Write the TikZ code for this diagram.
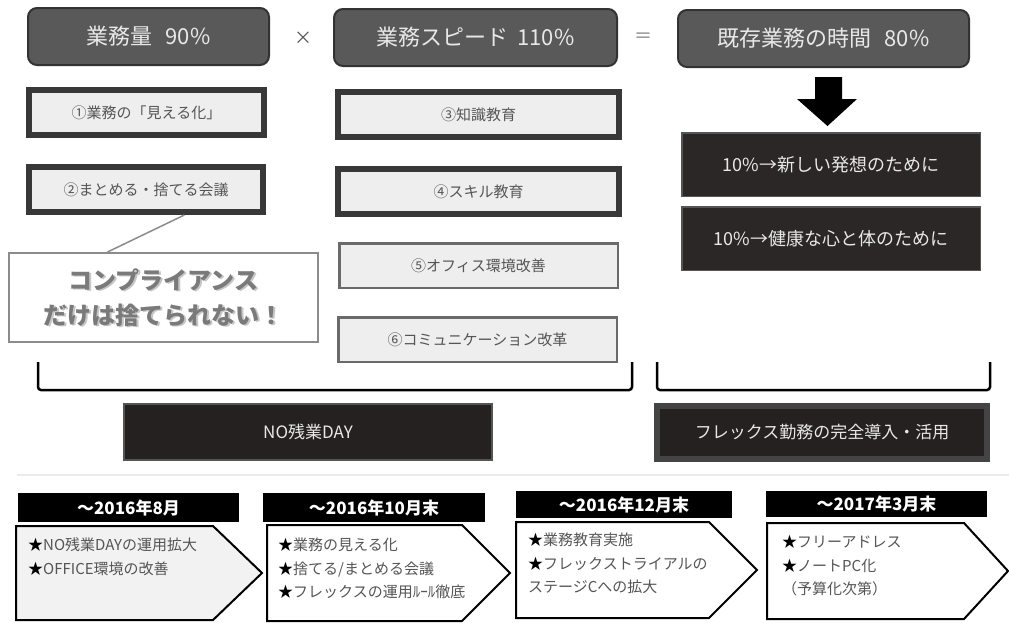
\documentclass[tikz,border=0pt]{standalone}
\usepackage{fontspec}
\setmainfont{Noto Sans CJK JP}
\usetikzlibrary{calc}
\definecolor{topfill}{HTML}{595959}
\definecolor{topdraw}{HTML}{333333}
\definecolor{toptext}{HTML}{E8E8E8}
\definecolor{lightfill}{HTML}{EEEEEE}
\definecolor{thickdraw}{HTML}{383838}
\definecolor{thindraw}{HTML}{6A6A6A}
\definecolor{midtext}{HTML}{555555}
\definecolor{darkfill}{HTML}{2B2727}
\definecolor{darkdraw}{HTML}{555555}
\definecolor{callgray}{HTML}{7A7A7A}
\definecolor{calldraw}{HTML}{8C8C8C}
\definecolor{sepgray}{HTML}{EBEBEB}
\definecolor{p1fill}{HTML}{F2F2F2}
\newcommand\st{{\color{black}★}}
\begin{document}
\begin{tikzpicture}[x=1pt,y=-1pt,
  topbox/.style={draw=topdraw, line width=2, fill=topfill, rounded corners=9,
    text=toptext, font=\fontsize{22}{26}\selectfont, minimum width=#1, minimum height=57, inner sep=0},
  thickbox/.style={draw=thickdraw, line width=6, fill=lightfill, text=midtext,
    font=\fontsize{15}{17}\selectfont, minimum width=#1, minimum height=45, inner sep=0},
  thinbox/.style={draw=thindraw, line width=2.5, fill=lightfill, text=midtext,
    font=\fontsize{15}{17}\selectfont, minimum width=#1, minimum height=44.5, inner sep=0},
  darkbox/.style={draw=darkdraw, line width=1.5, fill=darkfill, text=toptext,
    font=\fontsize{18}{21}\selectfont, minimum width=#1, minimum height=63.5, inner sep=0},
  tlhead/.style={fill=black, text=white, font=\bfseries\fontsize{17}{20}\selectfont,
    minimum width=#1, inner sep=0},
  tltext/.style={anchor=north west, align=left, inner sep=0, text=midtext,
    font=\fontsize{15}{23.5}\selectfont},
  penta/.style={draw=black, line width=2, line join=miter},
  bracket/.style={draw=black, line width=2.5, rounded corners=3},
  opsym/.style={text=midtext, font=\fontsize{18}{20}\selectfont, inner sep=0}
]
\useasboundingbox[fill=white] (0,0) rectangle (1009,622);

% top row
\node[topbox=241] (A) at (148.5,36.5) {業務量\hspace{0.6em}90\%};
\node[opsym] (times) at (303,38) {×};
\node[topbox=283] (B) at (475.5,37.5) {業務スピード\hspace{0.4em}110\%};
\node[opsym, text=gray] (eq) at (643,38) {＝};
\node[topbox=291] (C) at (823.5,38.5) {既存業務の時間\hspace{0.6em}80\%};

% measures
\node[thickbox=235] (n1) at (146.5,112.5) {①業務の「見える化」};
\node[thickbox=234] (n2) at (146,189.5) {②まとめる・捨てる会議};
\node[thickbox=281] (n3) at (478.5,114.5) {③知識教育};
\node[thickbox=281] (n4) at (478.5,191.5) {④スキル教育};
\node[thinbox=278.5] (n5) at (478.5,265.5) {⑤オフィス環境改善};
\node[thinbox=278.5] (n6) at (477.5,339.5) {⑥コミュニケーション改革};

% block arrow
\fill[black] (815,77) -- (842,77) -- (842,99) -- (857,99) -- (827.5,126) -- (797,99) -- (815,99) -- cycle;

\node[darkbox=298.5] (d1) at (831,164.5) {10\%→新しい発想のために};
\node[darkbox=298.5] (d2) at (831,238.5) {10\%→健康な心と体のために};

% callout
\node[draw=calldraw, line width=2, fill=white, minimum width=309, minimum height=89, inner sep=0] (callout) at (163.5,297.5) {};
\node[text=gray!45, font=\bfseries\fontsize{24}{35}\selectfont, align=center, inner sep=0] (callshadow) at (165.2,299.2) {コンプライアンス\\だけは捨てられない！};
\node[text=callgray, font=\bfseries\fontsize{24}{35}\selectfont, align=center, inner sep=0] (calltext) at (163.5,297.5) {コンプライアンス\\だけは捨てられない！};
\draw[calldraw, line width=1.5] ($(n2.south west)!0.66!(n2.south east)$) -- ($(callout.north west)!0.32!(callout.north east)$);

% brackets
\draw[bracket] (38,362) -- (38,390) -- (632,390) -- (632,362);
\draw[bracket] (657,362) -- (657,390) -- (990,390) -- (990,362);

\node[draw=darkdraw, line width=2, fill=darkfill!85!black, text=toptext, font=\fontsize{17}{20}\selectfont,
  minimum width=368, minimum height=56, inner sep=0] (noday) at (308,432) {NO残業DAY};
\node[draw=darkdraw!80!black, line width=6, fill=darkfill!85!black, text=toptext, font=\fontsize{17}{20}\selectfont,
  minimum width=330, minimum height=53, inner sep=0] (flex) at (822,432.5) {フレックス勤務の完全導入・活用};

% separator
\draw[sepgray, line width=1.5] (17,475) -- (1009,475);

% timeline
\node[tlhead=221, minimum height=29] (h1) at (128.5,507.5) {～2016年8月};
\node[tlhead=222, minimum height=29] (h2) at (374,507.5) {～2016年10月末};
\node[tlhead=216, minimum height=27] (h3) at (624,504.5) {～2016年12月末};
\node[tlhead=221, minimum height=26] (h4) at (876.5,504) {～2017年3月末};

\draw[penta, fill=p1fill] (16,526) -- (213,526) -- (262,573) -- (213,620) -- (16,620) -- cycle;
\draw[penta, fill=white] (267,525) -- (462,525) -- (510,573) -- (462,621) -- (267,621) -- cycle;
\draw[penta, fill=white] (516,522) -- (709,522) -- (757,570) -- (709,618) -- (516,618) -- cycle;
\draw[penta, fill=white] (767,523) -- (964,523) -- (1008,571) -- (964,619) -- (767,619) -- cycle;

\node[tltext] (t1) at (28,538) {\st NO残業DAYの運用拡大\\\st OFFICE環境の改善};
\node[tltext] (t2) at (278,538) {\st 業務の見える化\\\st 捨てる/まとめる会議\\\st フレックスの運用ﾙｰﾙ徹底};
\node[tltext] (t3) at (528,533) {\st 業務教育実施\\\st フレックストライアルの\\ステージCへの拡大};
\node[tltext] (t4) at (782,535) {\st フリーアドレス\\\st ノートPC化\\（予算化次第）};
\end{tikzpicture}
\end{document}
